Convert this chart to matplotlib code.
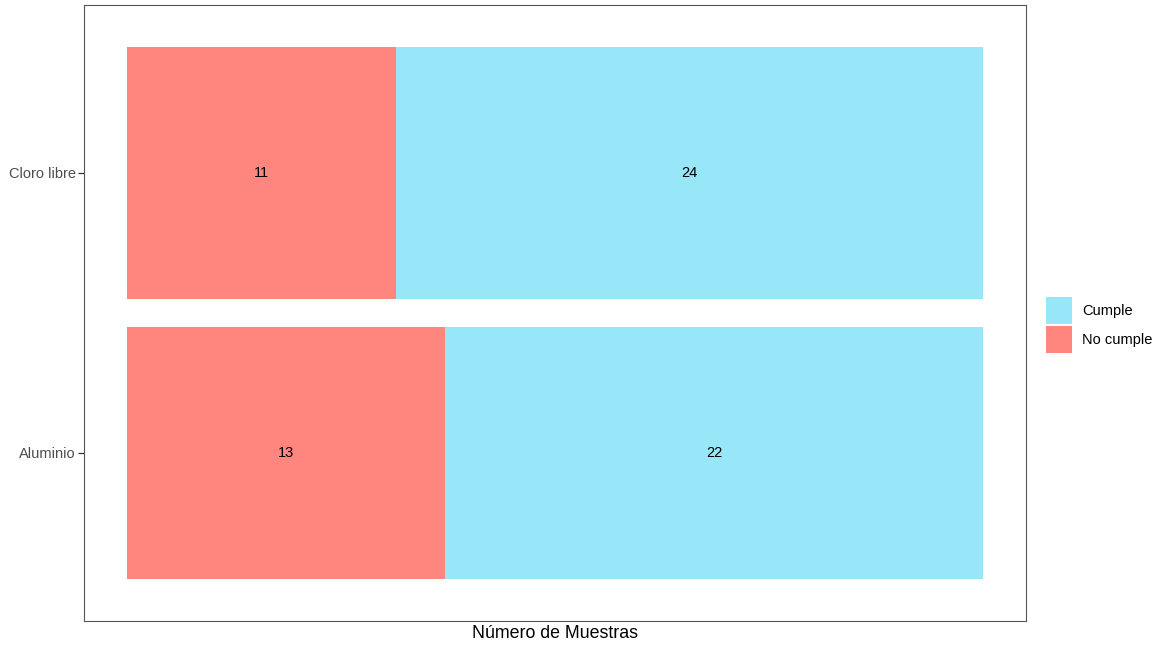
import matplotlib.pyplot as plt
from matplotlib.patches import Patch

plt.rcParams['font.family'] = ['Liberation Sans', 'DejaVu Sans']

parametros = ["Aluminio", "Cloro libre"]
no_cumple = [13, 11]
cumple = [22, 24]
col_no = "#FF867E"
col_si = "#98E7F9"

fig = plt.figure(figsize=(11.57, 6.47), dpi=100)
ax = fig.add_axes([84 / 1157, 26 / 647, 942 / 1157, 616 / 647])

ypos = list(range(len(parametros)))
ax.barh(ypos, no_cumple, height=0.9, color=col_no, linewidth=0)
ax.barh(ypos, cumple, left=no_cumple, height=0.9, color=col_si, linewidth=0)

for y, n, c in zip(ypos, no_cumple, cumple):
    ax.text(n / 2, y, str(n), ha='center', va='center', fontsize=10.5, color='black')
    ax.text(n + c / 2, y, str(c), ha='center', va='center', fontsize=10.5, color='black')

total = max(n + c for n, c in zip(no_cumple, cumple))
ax.set_xlim(-0.05 * total, 1.05 * total)
ax.set_ylim(-0.6, len(parametros) - 0.4)
ax.set_yticks(ypos)
ax.set_yticklabels(parametros, fontsize=10.5, color='#4D4D4D')
ax.set_xticks([])
ax.tick_params(axis='y', length=4, width=0.9, color='#333333', pad=2)
for s in ax.spines.values():
    s.set_color('#555555')
    s.set_linewidth(0.8)
ax.set_xlabel("Número de Muestras", fontsize=12.8, labelpad=3)

handles = [Patch(facecolor=col_si, edgecolor='none', label='Cumple'),
           Patch(facecolor=col_no, edgecolor='none', label='No cumple')]
fig.legend(handles=handles, loc='center left', bbox_to_anchor=(1046 / 1157, 1 - 325 / 647),
           frameon=False, fontsize=10.5, handlelength=1.8, handleheight=2.5,
           labelspacing=0.1, handletextpad=0.7, borderpad=0, borderaxespad=0)

fig.savefig("out.png", dpi=100)
